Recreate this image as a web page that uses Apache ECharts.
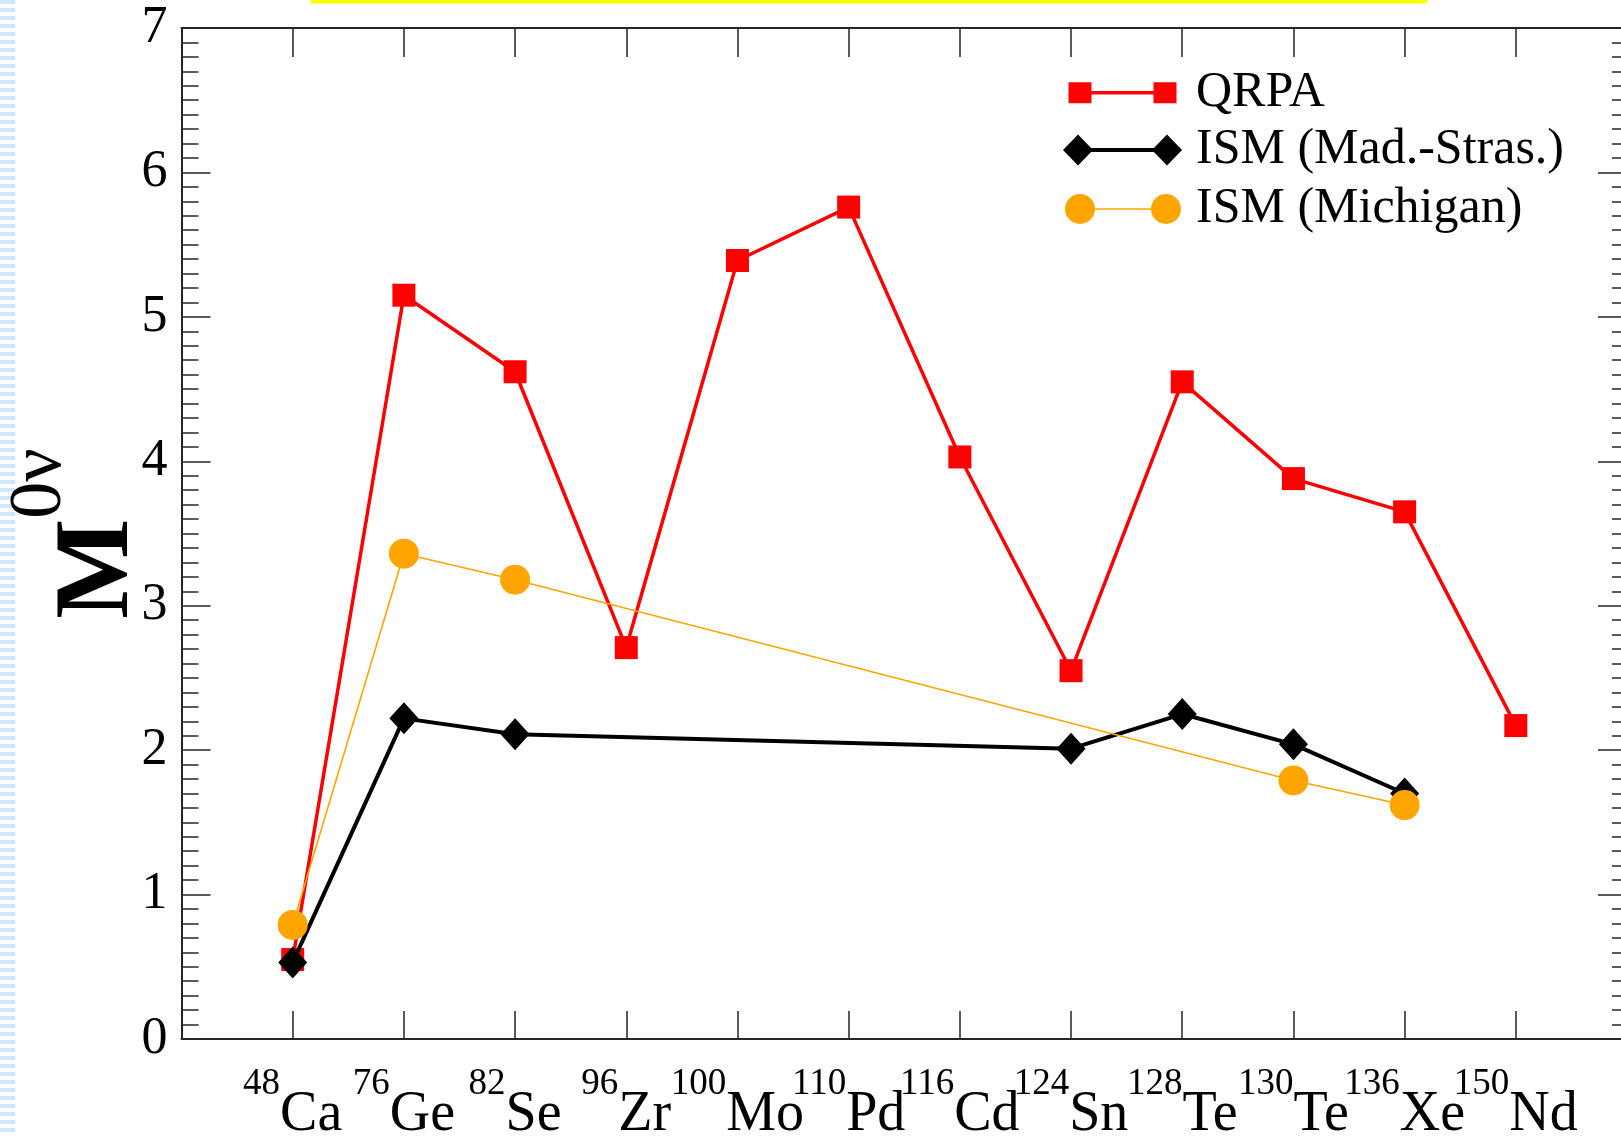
<!DOCTYPE html>
<html>
<head>
<meta charset="utf-8">
<title>M0v nuclear matrix elements</title>
<script src="https://cdn.jsdelivr.net/npm/echarts@6/dist/echarts.min.js"></script>
<style>
  html, body { margin: 0; padding: 0; background: #ffffff; }
  #wrap { position: relative; width: 1621px; height: 1136px; overflow: hidden; }
  #strip {
    position: absolute; left: 0; top: 0; width: 15px; height: 100%;
    background: repeating-linear-gradient(to bottom, #cde7fb 0px, #cde7fb 4px, #ffffff 4px, #ffffff 8px);
  }
  #chart { position: absolute; left: 0; top: 0; width: 1621px; height: 1136px; }
</style>
</head>
<body>
<div id="wrap">
  <div id="strip"></div>
  <div id="chart"></div>
</div>
<script>
// Double-beta-decay candidate nuclei (mass number + element)
const massNumbers = ['48', '76', '82', '96', '100', '110', '116', '124', '128', '130', '136', '150'];
const elements    = ['Ca', 'Ge', 'Se', 'Zr', 'Mo', 'Pd', 'Cd', 'Sn', 'Te', 'Te', 'Xe', 'Nd'];

// Nuclear matrix elements M^0v per nucleus (null = not computed)
const qrpa      = [0.55, 5.15, 4.62, 2.71, 5.39, 5.76, 4.03, 2.55, 4.55, 3.88, 3.65, 2.17];
const ismMadStr = [0.53, 2.22, 2.11, null, null, null, null, 2.01, 2.25, 2.04, 1.70, null];
const ismMich   = [0.79, 3.36, 3.18, null, null, null, null, null, null, 1.79, 1.62, null];

const yTicks = [0, 1, 2, 3, 4, 5, 6, 7];

const seriesNames = ['QRPA', 'ISM (Mad.-Stras.)', 'ISM (Michigan)'];

const serif = '"Liberation Serif", "Times New Roman", serif';

function toPoints(values) {
  return values.map((v, i) => [i + 1, v]);
}

// Legend keys: marker at both ends of a short line, one legend box per series
function legendBox(name, icon, left, centerY, w, h, gapToText) {
  return {
    orient: 'vertical',
    left: left,
    top: centerY - 25,
    padding: 0,
    itemWidth: w,
    itemHeight: h,
    selectedMode: false,
    itemStyle: { borderWidth: 0 },
    textStyle: {
      fontFamily: serif,
      fontSize: 50,
      lineHeight: 50,
      color: '#000',
      padding: [0, 0, 0, gapToText]
    },
    data: [{ name: name, icon: icon }]
  };
}

const chart = echarts.init(document.getElementById('chart'), null, { renderer: 'canvas' });

const axisColor = '#262626';
const frameLine = { show: true, onZero: false, lineStyle: { color: axisColor, width: 2 } };

chart.setOption({
  backgroundColor: 'transparent',
  animation: false,
  grid: { left: 181.5, right: -6, top: 28, bottom: 97, outerBoundsMode: 'none', containLabel: false },
  graphic: [{
    type: 'rect',
    shape: { x: 311, y: 0, width: 1116, height: 3.5 },
    style: { fill: '#ffff00' },
    silent: true
  }],
  legend: [
    legendBox(seriesNames[0], 'path://M0,0H23V8.7H85V0H108V21H85V12.3H23V21H0Z',
      1068.5, 92.7, 108, 21, 14.5),
    legendBox(seriesNames[1], 'path://M0,15.5L15,0L28.06,13.5H90.94L104,0L119,15.5L104,31L90.94,17.5H28.06L15,31Z',
      1063, 150, 119, 31, 9),
    legendBox(seriesNames[2], 'path://M0,15A15,15,0,1,1,30,15A15,15,0,1,1,0,15ZM29,14.2H87V15.8H29ZM86,15A15,15,0,1,1,116,15A15,15,0,1,1,86,15Z',
      1065, 209, 116, 30, 10)
  ],
  xAxis: [{
    type: 'value',
    position: 'bottom',
    min: 0,
    max: elements.length + 1,
    interval: 1,
    splitLine: { show: false },
    axisLine: frameLine,
    axisTick: { show: true, inside: true, length: 28, lineStyle: { color: axisColor, width: 1.5 } },
    axisLabel: {
      margin: 27,
      formatter: function (v) {
        const i = Math.round(v) - 1;
        if (i < 0 || i >= elements.length) return '';
        return '{s|' + massNumbers[i] + '}{e|' + elements[i] + '}';
      },
      rich: {
        s: { fontFamily: serif, fontSize: 37, color: '#000', verticalAlign: 'top', lineHeight: 40 },
        e: { fontFamily: serif, fontSize: 56, color: '#000', verticalAlign: 'bottom', lineHeight: 77 }
      }
    }
  }, {
    type: 'value',
    position: 'top',
    min: 0,
    max: elements.length + 1,
    interval: 1,
    splitLine: { show: false },
    axisLine: frameLine,
    axisTick: { show: true, inside: true, length: 29, lineStyle: { color: axisColor, width: 1.5 } },
    axisLabel: { show: false }
  }],
  yAxis: [{
    type: 'value',
    position: 'left',
    min: yTicks[0],
    max: yTicks[yTicks.length - 1],
    interval: 1,
    splitLine: { show: false },
    axisLine: frameLine,
    axisTick: { show: true, inside: true, length: 29, lineStyle: { color: axisColor, width: 1.5 } },
    minorTick: { show: true, splitNumber: 10, length: 17, lineStyle: { color: axisColor, width: 1.5 } },
    axisLabel: {
      margin: 14,
      fontFamily: serif,
      fontSize: 52,
      color: '#000'
    },
    name: '{m|M}{s|0ν}',
    nameLocation: 'middle',
    nameRotate: 90,
    nameGap: 29,
    nameMoveOverlap: false,
    nameTextStyle: {
      rich: {
        m: { fontFamily: serif, fontSize: 106, fontWeight: 'bold', color: '#000', verticalAlign: 'bottom', lineHeight: 149 },
        s: { fontFamily: serif, fontSize: 74, color: '#000', verticalAlign: 'top', lineHeight: 80 }
      }
    }
  }, {
    type: 'value',
    position: 'right',
    min: yTicks[0],
    max: yTicks[yTicks.length - 1],
    interval: 1,
    splitLine: { show: false },
    axisLine: frameLine,
    axisTick: { show: true, inside: true, length: 29, lineStyle: { color: axisColor, width: 1.5 } },
    minorTick: { show: true, splitNumber: 10, length: 15, lineStyle: { color: axisColor, width: 1.5 } },
    axisLabel: { show: false }
  }],
  series: [{
    name: seriesNames[0],
    type: 'line',
    xAxisIndex: 0,
    yAxisIndex: 0,
    data: toPoints(qrpa),
    symbol: 'rect',
    symbolSize: 23,
    color: '#ff0000',
    lineStyle: { color: '#ff0000', width: 3.5 },
    itemStyle: { color: '#ff0000', borderWidth: 0 },
    z: 2
  }, {
    name: seriesNames[1],
    type: 'line',
    xAxisIndex: 0,
    yAxisIndex: 0,
    data: toPoints(ismMadStr),
    connectNulls: true,
    symbol: 'diamond',
    symbolSize: [29, 32],
    color: '#000000',
    lineStyle: { color: '#000000', width: 4 },
    itemStyle: { color: '#000000', borderWidth: 0 },
    z: 3
  }, {
    name: seriesNames[2],
    type: 'line',
    xAxisIndex: 0,
    yAxisIndex: 0,
    data: toPoints(ismMich),
    connectNulls: true,
    symbol: 'circle',
    symbolSize: 30,
    color: '#ffa500',
    lineStyle: { color: '#ffa500', width: 1.6 },
    itemStyle: { color: '#ffa500', borderWidth: 0 },
    z: 4
  }]
});
</script>
</body>
</html>
